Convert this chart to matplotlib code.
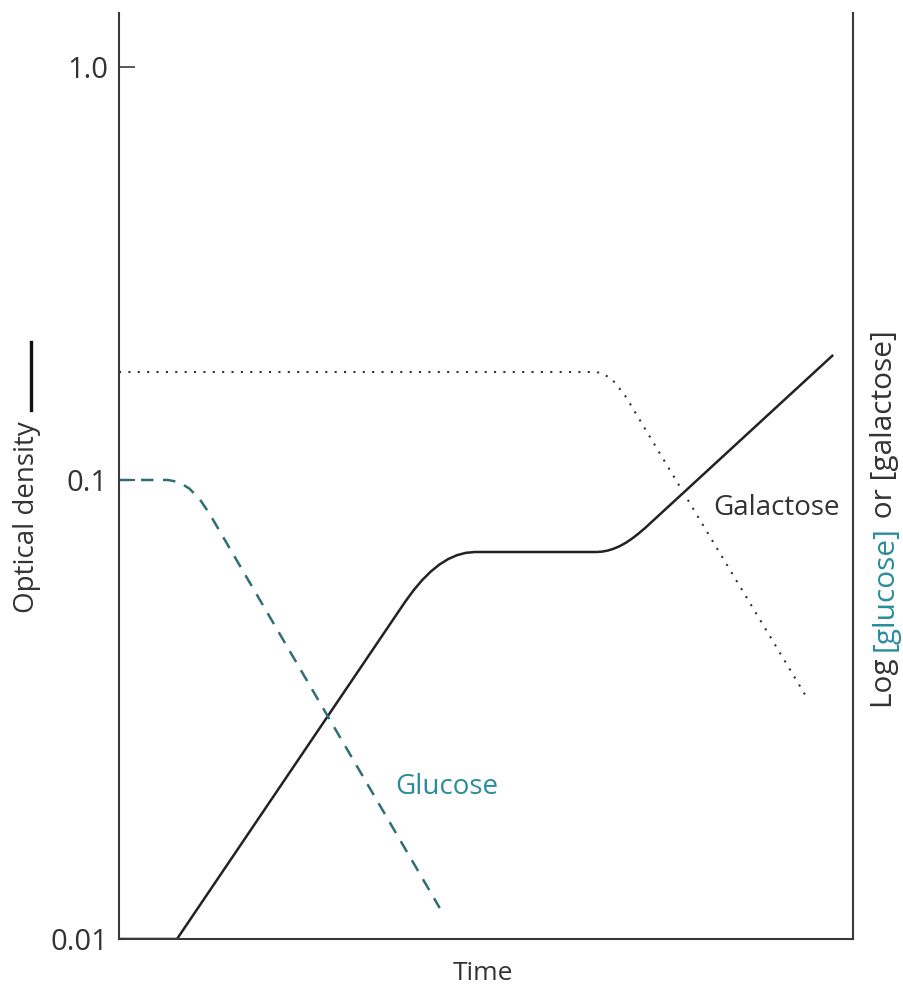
import numpy as np
import matplotlib
matplotlib.use("Agg")
import matplotlib.pyplot as plt
from matplotlib.lines import Line2D

plt.rcParams['font.family'] = ['Open Sans', 'DejaVu Sans']

# ---- data (time in arbitrary units) ----
od_time = [0, 7.9, 38.96, 40.13, 41.30, 42.48, 43.66, 44.86, 46.07, 47.28, 48.50,
           65.1, 65.88, 66.65, 67.45, 68.26, 69.09, 69.92, 70.78, 71.66, 97.3]
od_value = [0.01, 0.01, 0.05421, 0.05749, 0.06051, 0.06318, 0.06544, 0.06727,
            0.06860, 0.06940, 0.06968,
            0.06968, 0.06983, 0.07022, 0.07089, 0.07181, 0.07305, 0.07457,
            0.07643, 0.07855, 0.2008]

glucose_time = [0, 6.68, 8.16, 9.60, 11.02, 12.40, 43.7]
glucose_value = [0.1, 0.1, 0.09892, 0.09575, 0.09071, 0.08408, 0.01168]

galactose_time = [0, 65.1, 67.0, 68.9, 93.5]
galactose_value = [0.1826, 0.1826, 0.1768, 0.1606, 0.0340]

ytick_values = [0.01, 0.1, 1.0]
ytick_labels = ['0.01', '0.1', '1.0']

# ---- hand-drawn style log scale (decades drawn with slightly different heights) ----
D_LOW, D_HIGH = 459.0, 413.0


def fwd(y):
    y = np.asarray(y, dtype=float)
    l = np.log10(np.clip(y, 1e-12, None))
    return np.where(l <= -1, (l + 2) * D_LOW, D_LOW + (l + 1) * D_HIGH)


def inv(p):
    p = np.asarray(p, dtype=float)
    return np.where(p <= D_LOW, 10 ** (p / D_LOW - 2), 10 ** ((p - D_LOW) / D_HIGH - 1))


W, H = 904, 989
fig = plt.figure(figsize=(W / 100, H / 100), dpi=100)
ax = fig.add_axes([119 / W, 1 - 939 / H, (853 - 119) / W, (939 - 13) / H])
ax.set_yscale('function', functions=(fwd, inv))
ax.set_xlim(0, 100)
ax.set_ylim(0.01, 1.351)

ink = '#2b2b2b'
FS = 20
ax.plot(od_time, od_value, color='#222222', lw=1.8, solid_capstyle='butt')
ax.plot(glucose_time, glucose_value, color='#2f6f73', lw=1.8,
        linestyle=(0, (5.0, 3.8)))
ax.plot(galactose_time, galactose_value, color='#333333', lw=1.5,
        linestyle=(0, (1, 3.5)))

ax.set_yticks(ytick_values)
ax.set_yticklabels(ytick_labels)
ax.yaxis.set_minor_locator(matplotlib.ticker.NullLocator())
ax.set_xticks([])
ax.tick_params(axis='y', direction='in', length=11.5, width=1.1, color=ink,
               labelsize=21, labelcolor='#333333', pad=8)
for s in ['left', 'right', 'bottom']:
    ax.spines[s].set_color('#3a3a3a')
    ax.spines[s].set_linewidth(1.5)
ax.spines['top'].set_visible(False)

ax.text(37.6, 0.02144, 'Glucose', color='#2a8c9c', fontsize=FS,
        ha='left', va='center')
ax.text(80.9, 0.0869, 'Galactose', color='#333333', fontsize=FS,
        ha='left', va='center')

fig.text(483 / W, 1 - 980 / H, 'Time', color='#333333', fontsize=19,
         ha='center', va='baseline')

# left axis title with line key
fig.text(27 / W, 1 - 517 / H, 'Optical density', color='#333333', fontsize=FS,
         rotation=90, ha='center', va='center')
fig.add_artist(Line2D([31 / W, 31 / W], [1 - 410 / H, 1 - 342 / H],
                      transform=fig.transFigure, color='#111111', lw=2.4))

# right axis title, multi-coloured, reading bottom to top
fig.canvas.draw()
renderer = fig.canvas.get_renderer()
pieces = [('Log ', '#333333'), ('[glucose]', '#2a8c9c'), (' or [galactose]', '#333333')]
y_px = 708.0
for txt, col in pieces:
    t = fig.text(885 / W, 1 - y_px / H, txt, color=col, fontsize=21.5, rotation=90,
                 ha='center', va='bottom', rotation_mode='default')
    bb = t.get_window_extent(renderer)
    y_px -= bb.height

fig.savefig('out.png', dpi=100)
